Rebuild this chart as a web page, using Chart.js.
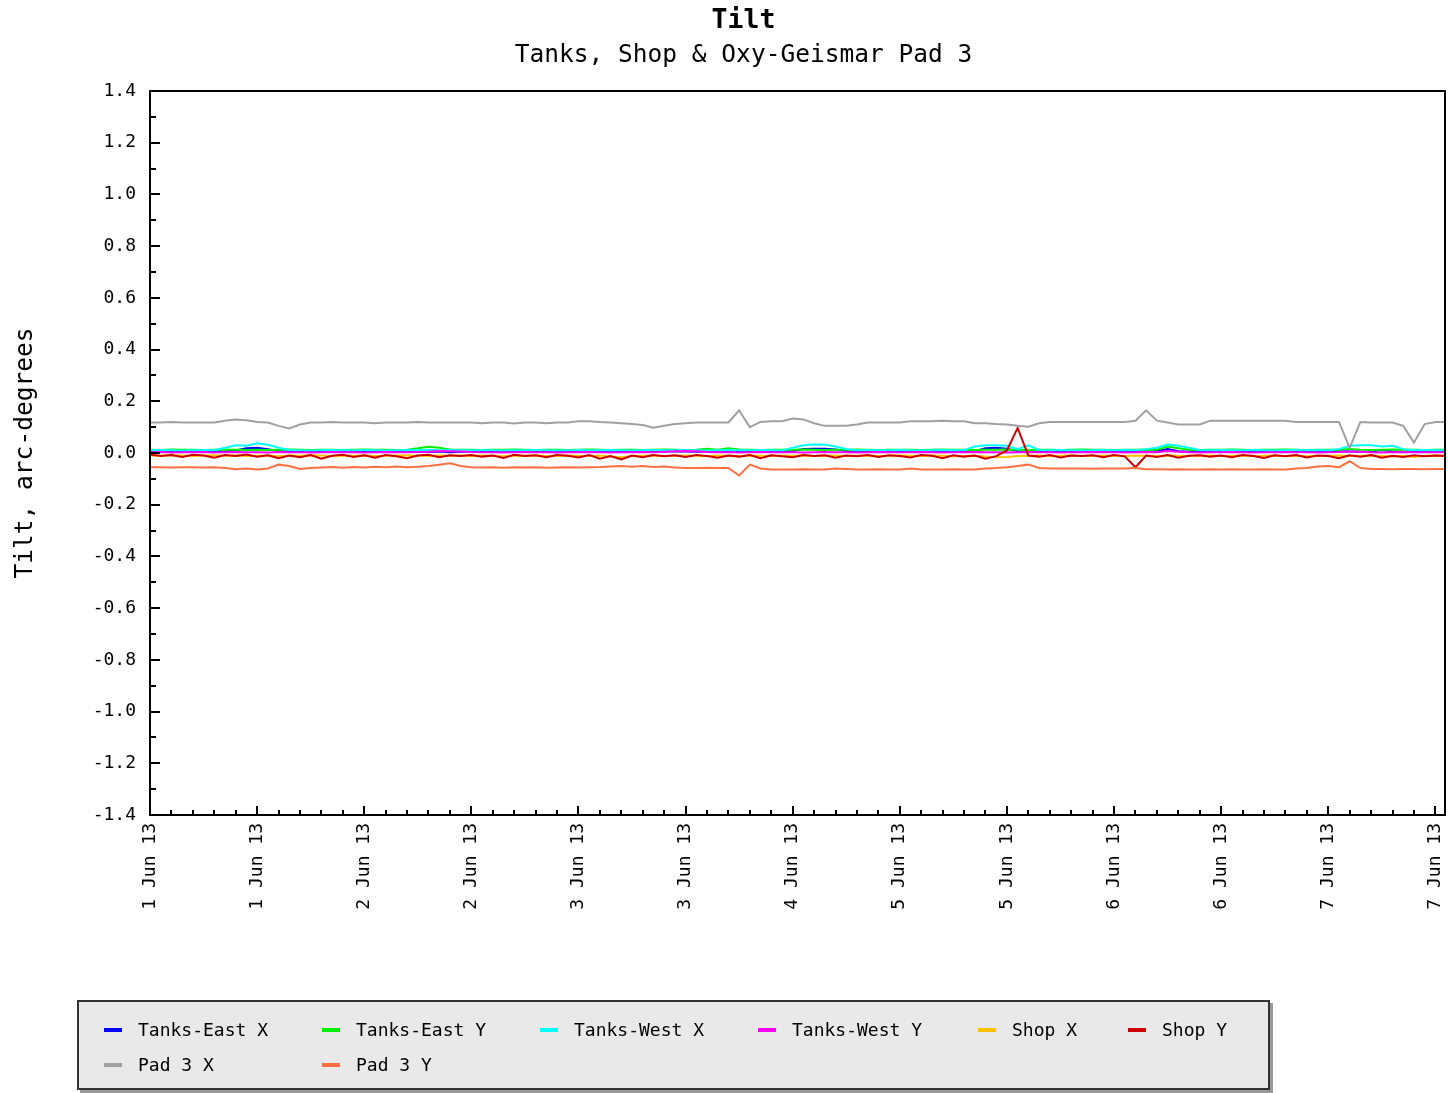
<!DOCTYPE html>
<html>
<head>
<meta charset="utf-8">
<script src="https://cdn.jsdelivr.net/npm/chart.js@4/dist/chart.umd.min.js"></script>
<style>
  html, body { margin: 0; padding: 0; background: #fff; }
  #wrap { position: relative; width: 1448px; height: 1093px; }
  #c { position: absolute; left: 0; top: 0; }
  #legend {
    position: absolute; left: 77px; top: 1000px;
    background: #e9e9e9; border: 2px solid #333; box-shadow: 3px 3px 0 #999;
    display: grid; grid-template-columns: 218px 218px 218px 220px 150px auto;
    grid-auto-rows: 35px; padding-top: 10px; padding-left: 25px; box-sizing: border-box; width: 1193px; height: 90px;
    font-family: "DejaVu Sans Mono", monospace; font-size: 18px; color: #000;
  }
  .item { display: flex; align-items: center; white-space: pre; }
  .mk { display: inline-block; width: 18px; height: 4px; margin-right: 16px; }
</style>
</head>
<body>
<div id="wrap">
  <canvas id="c" width="1448" height="1093"></canvas>
  <div id="legend"></div>
</div>
<script>
// ---- Data ----
const titleText = 'Tilt';
const subtitleText = 'Tanks, Shop & Oxy-Geismar Pad 3';
const yTitle = 'Tilt, arc-degrees';
const xLabels = ['1 Jun 13','1 Jun 13','2 Jun 13','2 Jun 13','3 Jun 13','3 Jun 13','4 Jun 13','5 Jun 13','5 Jun 13','6 Jun 13','6 Jun 13','7 Jun 13','7 Jun 13'];
const yTickValues = [-1.4,-1.2,-1.0,-0.8,-0.6,-0.4,-0.2,0.0,0.2,0.4,0.6,0.8,1.0,1.2,1.4];
const sampleStep = 0.1; // samples per label interval (10 per interval)
const seriesNames = ['Tanks-East X','Tanks-East Y','Tanks-West X','Tanks-West Y','Shop X','Shop Y','Pad 3 X','Pad 3 Y'];
const seriesColors = ['#0000ff','#00f000','#00ffff','#ff00ff','#ffc000','#cc0000','#a0a0a0','#ff7040'];

const tanksEastX = [
0.006,0.007,0.005,0.006,0.008,0.006,0.005,0.007,0.01,0.018,
0.02,0.015,0.008,0.006,0.005,0.007,0.006,0.005,0.006,0.007,
0.006,0.005,0.007,0.006,0.005,0.006,0.004,0.006,0.003,0.005,
0.006,0.007,0.005,0.006,0.006,0.005,0.007,0.006,0.005,0.006,
0.006,0.005,0.006,0.007,0.005,0.006,0.006,0.005,0.006,0.007,
0.006,0.005,0.006,0.006,0.007,0.005,0.006,0.006,0.005,0.006,
0.008,0.015,0.016,0.016,0.014,0.008,0.006,0.005,0.006,0.007,
0.006,0.005,0.007,0.006,0.006,0.005,0.006,0.007,0.018,0.02,
0.016,0.007,0.006,0.005,0.006,0.007,0.006,0.005,0.006,0.006,
0.005,0.006,0.007,0.006,0.008,0.015,0.007,0.006,0.005,0.006,
0.006,0.007,0.005,0.006,0.006,0.005,0.007,0.006,0.005,0.006,
0.006,0.007,0.006,0.005,0.006,0.012,0.006,0.005,0.006,0.007,
0.006,0.006];
const tanksEastY = [
0.013,0.012,0.014,0.013,0.013,0.012,0.013,0.014,0.013,0.012,
0.013,0.012,0.013,0.014,0.013,0.012,0.013,0.013,0.012,0.013,
0.014,0.013,0.013,0.012,0.013,0.018,0.024,0.02,0.014,0.013,
0.013,0.012,0.013,0.013,0.014,0.013,0.012,0.013,0.013,0.012,
0.013,0.014,0.013,0.012,0.013,0.013,0.012,0.013,0.014,0.013,
0.012,0.013,0.016,0.013,0.018,0.014,0.013,0.012,0.013,0.013,
0.013,0.014,0.013,0.012,0.013,0.013,0.014,0.013,0.012,0.013,
0.013,0.013,0.012,0.013,0.014,0.013,0.013,0.012,0.013,0.013,
0.014,0.013,0.012,0.013,0.013,0.012,0.013,0.014,0.013,0.013,
0.012,0.013,0.013,0.014,0.013,0.025,0.018,0.013,0.012,0.013,
0.013,0.014,0.013,0.012,0.013,0.013,0.014,0.013,0.012,0.013,
0.013,0.013,0.015,0.013,0.012,0.013,0.014,0.013,0.013,0.012,
0.013,0.013];
const tanksWestX = [
0.011,0.012,0.011,0.01,0.011,0.012,0.011,0.02,0.03,0.028,
0.038,0.032,0.02,0.012,0.011,0.01,0.011,0.012,0.011,0.011,
0.012,0.011,0.01,0.011,0.012,0.011,0.013,0.011,0.012,0.011,
0.011,0.012,0.011,0.01,0.011,0.011,0.012,0.011,0.01,0.011,
0.012,0.011,0.011,0.012,0.011,0.01,0.011,0.012,0.011,0.011,
0.012,0.011,0.01,0.011,0.012,0.011,0.011,0.012,0.011,0.01,
0.02,0.03,0.033,0.032,0.025,0.015,0.011,0.012,0.011,0.011,
0.012,0.011,0.01,0.011,0.012,0.011,0.012,0.025,0.03,0.03,
0.028,0.015,0.03,0.012,0.011,0.012,0.011,0.01,0.011,0.012,
0.011,0.012,0.011,0.015,0.02,0.033,0.028,0.02,0.012,0.011,
0.012,0.011,0.011,0.012,0.011,0.01,0.011,0.012,0.011,0.012,
0.011,0.015,0.028,0.03,0.03,0.025,0.028,0.015,0.011,0.012,
0.011,0.011];
const tanksWestY = [
0.003,0.004,0.002,0.003,0.003,0.004,0.002,0.003,0.004,0.003,
0.003,0.002,0.004,0.003,0.003,0.002,0.003,0.004,0.003,0.003,
0.002,0.003,0.004,0.003,0.003,0.004,0.005,0.008,0.007,0.006,
0.004,0.003,0.003,0.002,0.003,0.004,0.003,0.003,0.002,0.003,
0.003,0.004,0.003,0.002,0.003,0.003,0.004,0.003,0.005,0.007,
0.008,0.007,0.004,0.003,0.003,0.002,0.003,0.004,0.003,0.003,
0.003,0.002,0.003,0.004,0.003,0.003,0.002,0.003,0.004,0.003,
0.003,0.003,0.004,0.003,0.002,0.003,0.003,0.004,0.003,0.003,
0.002,0.003,0.004,0.003,0.003,0.002,0.003,0.003,0.004,0.003,
0.003,0.002,0.003,0.004,0.003,0.008,0.005,0.003,0.002,0.003,
0.003,0.004,0.003,0.002,0.003,0.003,0.004,0.003,0.003,0.002,
0.003,0.004,0.006,0.005,0.003,0.002,0.003,0.004,0.003,0.003,
0.003,0.003];
const shopX = [
-0.01,-0.011,-0.009,-0.01,-0.012,-0.01,-0.009,-0.011,-0.01,-0.012,
-0.011,-0.01,-0.013,-0.01,-0.011,-0.009,-0.01,-0.012,-0.01,-0.011,
-0.01,-0.012,-0.011,-0.01,-0.009,-0.011,-0.012,-0.01,-0.011,-0.01,
-0.012,-0.01,-0.011,-0.013,-0.01,-0.011,-0.01,-0.012,-0.011,-0.01,
-0.011,-0.012,-0.01,-0.014,-0.016,-0.012,-0.011,-0.01,-0.012,-0.011,
-0.01,-0.011,-0.012,-0.01,-0.011,-0.012,-0.01,-0.011,-0.012,-0.01,
-0.011,-0.01,-0.012,-0.011,-0.01,-0.012,-0.011,-0.01,-0.012,-0.011,
-0.01,-0.011,-0.012,-0.01,-0.011,-0.013,-0.012,-0.011,-0.014,-0.016,
-0.015,-0.012,-0.011,-0.01,-0.012,-0.011,-0.01,-0.012,-0.011,-0.01,
-0.011,-0.012,-0.01,-0.011,-0.012,-0.01,-0.011,-0.012,-0.011,-0.01,
-0.012,-0.011,-0.01,-0.012,-0.011,-0.01,-0.012,-0.011,-0.013,-0.012,
-0.011,-0.01,-0.012,-0.011,-0.01,-0.012,-0.014,-0.011,-0.015,-0.011,
-0.01,-0.011];
const shopY = [
-0.006,-0.012,-0.008,-0.015,-0.007,-0.01,-0.018,-0.008,-0.012,-0.006,
-0.014,-0.009,-0.02,-0.01,-0.016,-0.008,-0.022,-0.011,-0.007,-0.015,
-0.009,-0.018,-0.008,-0.013,-0.02,-0.01,-0.007,-0.016,-0.009,-0.012,
-0.008,-0.014,-0.01,-0.019,-0.007,-0.012,-0.009,-0.016,-0.008,-0.011,
-0.017,-0.008,-0.022,-0.012,-0.025,-0.01,-0.016,-0.008,-0.013,-0.009,
-0.015,-0.008,-0.012,-0.018,-0.01,-0.014,-0.008,-0.02,-0.009,-0.013,
-0.016,-0.008,-0.012,-0.009,-0.018,-0.01,-0.013,-0.008,-0.015,-0.009,
-0.012,-0.017,-0.008,-0.011,-0.02,-0.009,-0.014,-0.01,-0.022,-0.012,
0.01,0.097,-0.01,-0.014,-0.008,-0.017,-0.01,-0.012,-0.009,-0.016,
-0.008,-0.013,-0.055,-0.01,-0.015,-0.008,-0.018,-0.011,-0.009,-0.014,
-0.01,-0.016,-0.008,-0.012,-0.019,-0.009,-0.013,-0.008,-0.017,-0.01,
-0.012,-0.02,-0.009,-0.014,-0.008,-0.018,-0.011,-0.015,-0.009,-0.013,
-0.01,-0.012];
const pad3X = [
0.118,0.118,0.12,0.118,0.118,0.118,0.118,0.125,0.13,0.127,
0.12,0.118,0.105,0.095,0.11,0.118,0.118,0.12,0.118,0.118,
0.118,0.115,0.118,0.118,0.118,0.12,0.118,0.118,0.118,0.118,
0.118,0.115,0.118,0.118,0.114,0.118,0.118,0.115,0.118,0.118,
0.123,0.123,0.12,0.118,0.115,0.112,0.108,0.098,0.105,0.112,
0.115,0.118,0.118,0.118,0.118,0.165,0.1,0.12,0.123,0.123,
0.133,0.13,0.115,0.105,0.105,0.105,0.11,0.118,0.118,0.118,
0.118,0.123,0.123,0.123,0.125,0.123,0.123,0.115,0.115,0.112,
0.11,0.105,0.102,0.115,0.12,0.12,0.12,0.12,0.12,0.12,
0.12,0.12,0.125,0.165,0.125,0.118,0.11,0.11,0.11,0.125,
0.125,0.125,0.125,0.125,0.125,0.125,0.125,0.12,0.12,0.12,
0.12,0.12,0.02,0.12,0.118,0.118,0.118,0.105,0.04,0.112,
0.12,0.12];
const pad3Y = [
-0.055,-0.055,-0.056,-0.055,-0.055,-0.056,-0.055,-0.058,-0.063,-0.06,
-0.064,-0.06,-0.045,-0.05,-0.062,-0.058,-0.056,-0.054,-0.057,-0.054,
-0.056,-0.053,-0.055,-0.052,-0.055,-0.053,-0.05,-0.045,-0.04,-0.05,
-0.055,-0.056,-0.055,-0.057,-0.055,-0.056,-0.055,-0.057,-0.056,-0.055,
-0.056,-0.055,-0.054,-0.052,-0.05,-0.053,-0.05,-0.054,-0.052,-0.056,
-0.058,-0.058,-0.057,-0.058,-0.058,-0.087,-0.045,-0.06,-0.064,-0.064,
-0.064,-0.063,-0.064,-0.064,-0.06,-0.062,-0.064,-0.064,-0.063,-0.064,
-0.064,-0.06,-0.064,-0.064,-0.064,-0.063,-0.064,-0.064,-0.06,-0.058,
-0.055,-0.05,-0.045,-0.058,-0.06,-0.06,-0.06,-0.06,-0.061,-0.06,
-0.06,-0.06,-0.058,-0.063,-0.063,-0.064,-0.063,-0.064,-0.064,-0.063,
-0.064,-0.063,-0.064,-0.064,-0.063,-0.064,-0.064,-0.06,-0.058,-0.052,
-0.05,-0.055,-0.032,-0.058,-0.062,-0.062,-0.063,-0.062,-0.062,-0.063,
-0.062,-0.062];

const seriesValues = [tanksEastX, tanksEastY, tanksWestX, tanksWestY, shopX, shopY, pad3X, pad3Y];

// ---- Chart ----
const MONO = '"DejaVu Sans Mono", monospace';
const datasets = seriesValues.map((vals, k) => ({
  label: seriesNames[k],
  data: vals.map((v, i) => ({ x: i * sampleStep, y: v })),
  borderColor: seriesColors[k],
  backgroundColor: seriesColors[k],
  borderWidth: 2,
  pointRadius: 0,
  tension: 0,
  order: seriesValues.length - k
}));

const frameTicks = {
  id: 'frameTicks',
  afterDatasetsDraw(chart) {
    const { ctx, chartArea: { left, right, top, bottom }, scales: { x, y } } = chart;
    ctx.save();
    ctx.strokeStyle = '#000';
    ctx.lineWidth = 2;
    ctx.strokeRect(left, top, right - left, bottom - top);
    ctx.beginPath();
    for (let k = -14; k <= 14; k++) {
      const py = Math.round(y.getPixelForValue(k / 10));
      const len = (k % 2 === 0) ? 10 : 6;
      ctx.moveTo(left, py); ctx.lineTo(left + len, py);
    }
    for (let k = 0; k * 0.2 <= x.max + 1e-9; k++) {
      const px = Math.round(x.getPixelForValue(k * 0.2));
      const len = (k % 5 === 0) ? 9 : 5;
      ctx.moveTo(px, bottom); ctx.lineTo(px, bottom - len);
    }
    ctx.stroke();
    ctx.restore();
  }
};

new Chart(document.getElementById('c'), {
  type: 'line',
  data: { datasets },
  plugins: [frameTicks],
  options: {
    responsive: false,
    animation: false,
    layout: { padding: { top: 0, right: 3, bottom: 0, left: 42 } },
    plugins: {
      legend: { display: false },
      tooltip: { enabled: false },
      title: { display: true, text: titleText, color: '#000',
        font: { family: MONO, size: 26.5, weight: 'bold' }, padding: { top: 5, bottom: 2 } },
      subtitle: { display: true, text: subtitleText, color: '#000',
        font: { family: MONO, size: 24.5 }, padding: { top: 2, bottom: 20.8 } }
    },
    scales: {
      x: {
        type: 'linear', min: 0, max: 12.09,
        grid: { display: false, drawTicks: false },
        border: { display: false },
        afterBuildTicks(scale) { scale.ticks = xLabels.map((l, i) => ({ value: i })); },
        afterFit(scale) { scale.height = 278; scale.paddingLeft = 0; scale.paddingRight = 0; },
        ticks: {
          autoSkip: false, minRotation: 90, maxRotation: 90, padding: 8, color: '#000',
          font: { family: MONO, size: 18 },
          callback: (v) => xLabels[Math.round(v)]
        }
      },
      y: {
        type: 'linear', min: -1.4, max: 1.4,
        grid: { display: false, drawTicks: false },
        border: { display: false },
        afterBuildTicks(scale) { scale.ticks = yTickValues.map(v => ({ value: v })); },
        afterFit(scale) { scale.width = 108; scale.paddingTop = 0; scale.paddingBottom = 0; },
        ticks: {
          padding: 14, color: '#000', font: { family: MONO, size: 18 },
          callback: (v) => (Math.abs(v) < 1e-9 ? 0 : v).toFixed(1)
        },
        title: { display: true, text: yTitle, color: '#000',
          font: { family: MONO, size: 24.5 }, padding: { top: -31, bottom: 0 } }
      }
    }
  }
});

// ---- Legend ----
const lg = document.getElementById('legend');
seriesNames.forEach((name, k) => {
  const it = document.createElement('div');
  it.className = 'item';
  const mk = document.createElement('span');
  mk.className = 'mk';
  mk.style.background = seriesColors[k];
  it.appendChild(mk);
  it.appendChild(document.createTextNode(name));
  lg.appendChild(it);
});
</script>
</body>
</html>
